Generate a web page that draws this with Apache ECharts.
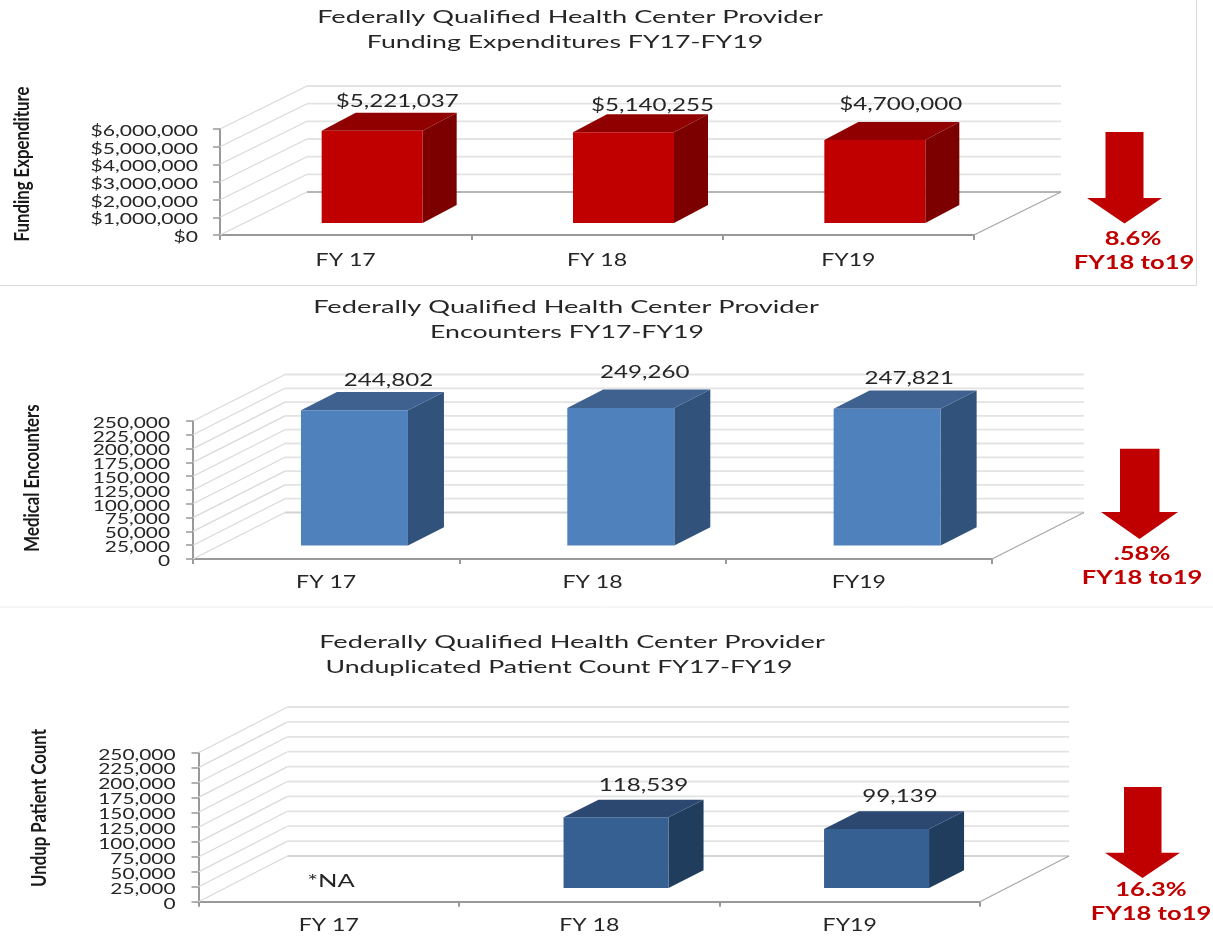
<!DOCTYPE html>
<html>
<head>
<meta charset="utf-8">
<title>Federally Qualified Health Center Provider FY17-FY19</title>
<style>
  html, body { margin: 0; padding: 0; background: #ffffff; }
  #chart { width: 1213px; height: 938px; }
</style>
<script src="https://cdn.jsdelivr.net/npm/echarts@6/dist/echarts.min.js"></script>
</head>
<body>
<div id="chart"></div>
<script>
// Values per panel
const categories = ['FY 17', 'FY 18', 'FY19'];
const fundingValues = [5221037, 5140255, 4700000];
const encounterValues = [244802, 249260, 247821];
const patientValues = [null, 118539, 99139];

const fundingTicks = [0, 1000000, 2000000, 3000000, 4000000, 5000000, 6000000];
const countTicks = [0, 25000, 50000, 75000, 100000, 125000, 150000, 175000, 200000, 225000, 250000];

const FONT = 'Lato, "DejaVu Sans", sans-serif';
const RED = '#C00000';
const INK = '#262626';

// Drawing set-up of each panel: plot box, pseudo-3D offsets and colours
const panels = [
  {
    values: fundingValues, ticks: fundingTicks, prefix: '$',
    x0: 220, x1: 974, yTop: 129, yBase: 235,
    wall: [87, 43], lift: 12, barShift: 26.5, barWidth: 101, depth: [34, 18],
    front: '#C00000', top: '#900000', side: '#7C0000', floorLine: '#B5B5B5',
    tickFont: 16, tickScale: 1.32, tickGap: 22, catGap: 24.5,
    labelShift: [[8, -12], [12, -10], [9, -18]],
    titleLines: [['Federally Qualified Health Center Provider', 570, 17],
                 ['Funding Expenditures FY17-FY19', 565, 42]],
    yName: ['Funding Expenditure', 22, 164],
    arrow: { shaft: [1105.5, 1143.5], head: [1087, 1162], yStart: 132, yNeck: 198, yTip: 223.5 },
    change: ['8.6%', 1133, 238, 1134, 262]
  },
  {
    values: encounterValues, ticks: countTicks, prefix: '',
    x0: 193, x1: 992, yTop: 421, yBase: 559,
    wall: [92, 46.5], lift: 13.5, barShift: 28.3, barWidth: 107, depth: [36, 18.3],
    front: '#4F81BD', top: '#3E618F', side: '#31527A', floorLine: '#D4D4D4',
    tickFont: 15, tickScale: 1.39, tickGap: 23, catGap: 23,
    labelShift: [[16, -13], [6, -18], [4, -13]],
    titleLines: [['Federally Qualified Health Center Provider', 566, 307],
                 ['Encounters FY17-FY19', 567, 332]],
    yName: ['Medical Encounters', 32, 478],
    arrow: { shaft: [1120, 1159.5], head: [1101, 1178], yStart: 448.7, yNeck: 512, yTip: 539 },
    change: ['.58%', 1142, 553, 1142, 577]
  },
  {
    values: patientValues, ticks: countTicks, prefix: '',
    x0: 198.5, x1: 980, yTop: 752.7, yBase: 901.7,
    wall: [89, 45.7], lift: 13.7, barShift: 26.8, barWidth: 105, depth: [35, 17.7],
    front: '#366092', top: '#2C4770', side: '#203D5E', floorLine: '#D4D4D4',
    tickFont: 15, tickScale: 1.39, tickGap: 23, catGap: 22.5,
    labelShift: [[0, 0], [10, -15], [6, -16]],
    titleLines: [['Federally Qualified Health Center Provider', 572, 642],
                 ['Unduplicated Patient Count FY17-FY19', 559, 667]],
    yName: ['Undup Patient Count', 39, 808],
    arrow: { shaft: [1124, 1161.5], head: [1105, 1180], yStart: 787, yNeck: 852.7, yTip: 878 },
    change: ['16.3%', 1151, 889, 1151, 913],
    note: ['*NA', 331, 881]
  }
];

const line = (x1, y1, x2, y2, stroke, lineWidth) => ({
  type: 'line', shape: { x1, y1, x2, y2 }, style: { stroke, lineWidth }
});

// Horizontally widened text; the glyphs stay short and broad
const label = (text, x, y, font, scaleX, fill, textAlign) => ({
  type: 'text', x, y: y + 1, scaleX,
  style: { text, font: font + ' ' + FONT, fill: fill || INK, textAlign: textAlign || 'center', verticalAlign: 'middle' }
});

// Floor, side wall and back wall rulings, plus the tick label, one set per axis tick
function wallRenderer(p) {
  return (params, api) => {
    const value = api.value(1);
    const y = api.coord([0, value])[1];
    const [dx, dy] = p.wall;
    const isFloor = value === 0;
    const children = [
      line(p.x0, y, p.x0 + dx, y - dy, '#D9D9D9', 1.2),
      line(p.x0 + dx, y - dy, p.x1 + dx, y - dy, isFloor ? p.floorLine : '#E3E3E3', 1.8),
      label(p.prefix + value.toLocaleString('en-US'), p.x0 - p.tickGap, y + 1, p.tickFont + 'px', p.tickScale, INK, 'right')
    ];
    if (isFloor) children.push(line(p.x1, y, p.x1 + dx, y - dy, '#A6A6A6', 1.2));
    return { type: 'group', children };
  };
}

// Category names below the floor edge
function categoryRenderer(p) {
  return (params, api) => {
    const pos = api.coord([api.value(0), 0]);
    return label(categories[api.value(0)], pos[0], pos[1] + p.catGap, '16.5px', 1.4);
  };
}

// Box-shaped column: front face, lid and right side, with its value above
function barRenderer(p) {
  return (params, api) => {
    const value = api.value(1);
    if (isNaN(value)) return;
    const index = api.value(0);
    const base = api.coord([index, 0]);
    const topY = api.coord([index, value])[1] - p.lift;
    const bottomY = base[1] - p.lift;
    const left = base[0] + p.barShift - p.barWidth / 2;
    const right = left + p.barWidth;
    const [dx, dy] = p.depth;
    const shift = p.labelShift[index];
    return {
      type: 'group',
      children: [
        { type: 'polygon', shape: { points: [[right, topY], [right + dx, topY - dy], [right + dx, bottomY - dy], [right, bottomY]] }, style: { fill: p.side } },
        { type: 'polygon', shape: { points: [[left, topY], [left + dx, topY - dy], [right + dx, topY - dy], [right, topY]] }, style: { fill: p.top } },
        { type: 'rect', shape: { x: left, y: topY, width: p.barWidth, height: bottomY - topY }, style: { fill: p.front } },
        label(p.prefix + value.toLocaleString('en-US'),
          (left + right + dx) / 2 + shift[0], topY - dy + shift[1], '17px', 1.42)
      ]
    };
  };
}

const grid = [], xAxis = [], yAxis = [], series = [], graphic = [];

panels.forEach((p, i) => {
  grid.push({ left: p.x0, top: p.yTop, width: p.x1 - p.x0, height: p.yBase - p.yTop });
  xAxis.push({
    type: 'category', gridIndex: i, data: categories,
    axisLine: { lineStyle: { color: '#999999', width: 2 } },
    axisTick: { show: true, length: 5, lineStyle: { color: '#999999', width: 2 } },
    axisLabel: { show: false }
  });
  yAxis.push({
    type: 'value', gridIndex: i, min: 0,
    max: p.ticks[p.ticks.length - 1], interval: p.ticks[1],
    splitLine: { show: false },
    axisLine: { show: true, lineStyle: { color: '#999999', width: 2 } },
    axisTick: { show: true, length: 7, lineStyle: { color: '#999999', width: 1.5 } },
    axisLabel: { show: false }
  });
  series.push({
    type: 'custom', xAxisIndex: i, yAxisIndex: i, z: 1, silent: true,
    data: p.ticks.map(t => [0, t]), encode: { x: 0, y: 1 },
    renderItem: wallRenderer(p)
  });
  series.push({
    type: 'custom', xAxisIndex: i, yAxisIndex: i, z: 2, silent: true,
    data: categories.map((c, k) => [k, 0]), encode: { x: 0, y: 1 },
    renderItem: categoryRenderer(p)
  });
  series.push({
    type: 'custom', xAxisIndex: i, yAxisIndex: i, z: 3, silent: true,
    data: p.values.map((v, k) => [k, v]), encode: { x: 0, y: 1 },
    renderItem: barRenderer(p)
  });

  p.titleLines.forEach(([text, x, y], lineIndex) => {
    graphic.push(label(text, x, y, '17px', lineIndex === 0 ? 1.6 : 1.57));
  });

  graphic.push({
    type: 'text', x: p.yName[1], y: p.yName[2], rotation: Math.PI / 2, scaleY: 1.22,
    style: { text: p.yName[0], font: 'bold 16.8px ' + FONT, fill: '#1a1a1a', textAlign: 'center', verticalAlign: 'middle' }
  });

  const a = p.arrow;
  graphic.push({
    type: 'polygon',
    shape: { points: [
      [a.shaft[0], a.yStart], [a.shaft[1], a.yStart], [a.shaft[1], a.yNeck],
      [a.head[1], a.yNeck], [(a.head[0] + a.head[1]) / 2, a.yTip], [a.head[0], a.yNeck],
      [a.shaft[0], a.yNeck]
    ] },
    style: { fill: RED }
  });
  const [pct, px, py, rx, ry] = p.change;
  graphic.push(label(pct, px, py, 'bold 18px', 1.42, RED));
  graphic.push(label('FY18 to19', rx, ry, 'bold 18px', 1.42, RED));

  if (p.note) {
    graphic.push(label(p.note[0], p.note[1], p.note[2], '17px', 1.5));
  }
});

// Hairline frames separating the panels
graphic.push(
  line(0, 285.5, 1196.5, 285.5, '#D9D9D9', 1),
  line(1196.5, 0, 1196.5, 285.5, '#D9D9D9', 1),
  line(0, 607, 1213, 607, '#EDEDED', 1)
);

const chart = echarts.init(document.getElementById('chart'), null, { renderer: 'canvas' });
chart.setOption({
  animation: false,
  backgroundColor: '#ffffff',
  grid, xAxis, yAxis, series, graphic
});
</script>
</body>
</html>
